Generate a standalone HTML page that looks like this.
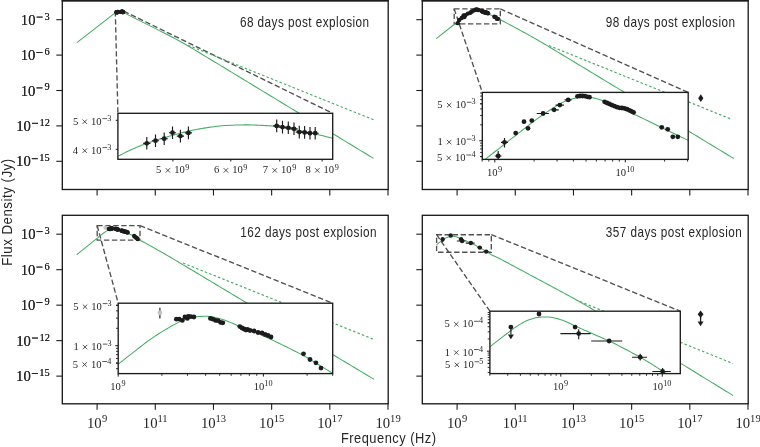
<!DOCTYPE html>
<html><head><meta charset="utf-8"><style>html,body{margin:0;padding:0;background:#fff;}svg{display:block;}</style></head>
<body>
<svg style="will-change:transform" width="760" height="447" viewBox="0 0 760 447" font-family="'Liberation Serif', serif" fill="#262626">
<rect width="760" height="447" fill="#fff"/>
<defs>
<clipPath id="cTL"><rect x="62.3" y="0.6" width="325.9" height="188.9"/></clipPath>
<clipPath id="iTL"><rect x="117.9" y="113.3" width="214.8" height="46"/></clipPath>
<clipPath id="cTR"><rect x="422.3" y="0.6" width="325.9" height="188.9"/></clipPath>
<clipPath id="iTR"><rect x="482.3" y="92.4" width="205.9" height="67"/></clipPath>
<clipPath id="cBL"><rect x="62.3" y="215.3" width="325.9" height="188.5"/></clipPath>
<clipPath id="iBL"><rect x="118.2" y="303.2" width="214.5" height="70.4"/></clipPath>
<clipPath id="cBR"><rect x="422.3" y="215.3" width="325.9" height="188.5"/></clipPath>
<clipPath id="iBR"><rect x="489.9" y="311.2" width="190.4" height="62.4"/></clipPath>
</defs>
<line x1="56.3" y1="19.7" x2="62.3" y2="19.7" stroke="#1c1c1c" stroke-width="1.1"/>
<text x="20.86" y="24.8" font-size="14.7">10</text><rect x="36.6" y="16.65" width="6" height="0.9"/><text x="44.51" y="19.6" font-size="10.4">3</text>
<line x1="56.3" y1="55.1" x2="62.3" y2="55.1" stroke="#1c1c1c" stroke-width="1.1"/>
<text x="20.72" y="60.2" font-size="14.7">10</text><rect x="36.46" y="52.05" width="6" height="0.9"/><text x="44.41" y="55" font-size="10.4">6</text>
<line x1="56.3" y1="90.5" x2="62.3" y2="90.5" stroke="#1c1c1c" stroke-width="1.1"/>
<text x="20.72" y="95.6" font-size="14.7">10</text><rect x="36.46" y="87.45" width="6" height="0.9"/><text x="44.53" y="90.4" font-size="10.4">9</text>
<line x1="56.3" y1="125.9" x2="62.3" y2="125.9" stroke="#1c1c1c" stroke-width="1.1"/>
<text x="16.25" y="131" font-size="14.7">10</text><rect x="31.99" y="122.85" width="6" height="0.9"/><text x="39.47" y="125.8" font-size="10.4">12</text>
<line x1="56.3" y1="161.3" x2="62.3" y2="161.3" stroke="#1c1c1c" stroke-width="1.1"/>
<text x="16.08" y="166.4" font-size="14.7">10</text><rect x="31.82" y="158.25" width="6" height="0.9"/><text x="39.31" y="161.2" font-size="10.4">15</text>
<line x1="97.1" y1="189.5" x2="97.1" y2="195.5" stroke="#1c1c1c" stroke-width="1.1"/>
<line x1="155.28" y1="189.5" x2="155.28" y2="195.5" stroke="#1c1c1c" stroke-width="1.1"/>
<line x1="213.46" y1="189.5" x2="213.46" y2="195.5" stroke="#1c1c1c" stroke-width="1.1"/>
<line x1="271.64" y1="189.5" x2="271.64" y2="195.5" stroke="#1c1c1c" stroke-width="1.1"/>
<line x1="329.82" y1="189.5" x2="329.82" y2="195.5" stroke="#1c1c1c" stroke-width="1.1"/>
<line x1="388" y1="189.5" x2="388" y2="195.5" stroke="#1c1c1c" stroke-width="1.1"/>
<g clip-path="url(#cTL)">
<rect x="115.3" y="11.2" width="8.5" height="1.8" fill="none" stroke="#505050" stroke-width="1.35" stroke-dasharray="5.4,2.6"/>
<line x1="115.3" y1="11.2" x2="117.9" y2="113.3" stroke="#505050" stroke-width="1.35" stroke-dasharray="5.4,2.6"/>
<line x1="123.8" y1="11.2" x2="332.7" y2="113.3" stroke="#505050" stroke-width="1.35" stroke-dasharray="5.4,2.6"/>
<polyline points="76.9,42.6 114.8,13.2 115.3,12.88 115.35,12.86 115.41,12.83 115.46,12.8 115.52,12.77 115.59,12.74 115.65,12.7 115.71,12.67 115.78,12.64 115.84,12.61 115.91,12.59 115.98,12.56 116.05,12.53 116.12,12.5 116.19,12.47 116.26,12.44 116.33,12.42 116.4,12.39 116.47,12.37 116.54,12.34 116.61,12.32 116.67,12.3 116.74,12.27 116.82,12.25 116.89,12.23 116.96,12.21 117.03,12.19 117.11,12.16 117.18,12.14 117.26,12.12 117.33,12.1 117.4,12.08 117.48,12.06 117.55,12.04 117.62,12.02 117.69,12 117.76,11.98 117.82,11.96 117.89,11.95 117.96,11.93 118.03,11.91 118.1,11.9 118.17,11.88 118.24,11.87 118.31,11.85 118.38,11.84 118.46,11.82 118.54,11.81 118.62,11.79 118.71,11.78 118.8,11.77 118.9,11.75 119.01,11.74 119.11,11.72 119.21,11.71 119.32,11.7 119.42,11.69 119.52,11.68 119.63,11.67 119.73,11.67 119.83,11.66 119.94,11.66 120.04,11.66 120.13,11.66 120.23,11.65 120.31,11.65 120.39,11.65 120.47,11.65 120.55,11.66 120.62,11.66 120.69,11.66 120.77,11.66 120.84,11.67 120.92,11.67 121.01,11.67 121.09,11.68 121.17,11.68 121.26,11.69 121.34,11.69 121.41,11.7 121.49,11.7 121.55,11.71 121.61,11.72 121.67,11.73 121.73,11.74 121.79,11.75 121.84,11.76 121.9,11.77 121.95,11.78 122.01,11.79 122.06,11.8 122.11,11.81 122.16,11.82 122.22,11.83 122.27,11.84 122.34,11.85 122.4,11.87 122.48,11.88 122.56,11.9 122.64,11.91 122.73,11.93 122.82,11.95 122.91,11.97 123,11.99 123.09,12.01 123.18,12.03 123.27,12.05 123.36,12.07 123.46,12.09 123.55,12.11 123.64,12.14 123.72,12.16 123.8,12.17 127.5,14.6 129.5,15.6 131.5,16.6 133.5,17.61 135.5,18.61 137.5,19.61 139.5,20.61 141.5,21.61 143.5,22.62 145.5,23.62 147.5,24.62 149.5,25.63 151.5,26.63 153.5,27.63 155.5,28.64 157.5,29.64 159.5,30.65 161.5,31.66 163.5,32.68 165.5,33.69 167.5,34.72 169.5,35.74 171.5,36.78 173.5,37.83 175.5,38.9 177.5,39.97 179.5,41.07 181.5,42.18 183.5,43.31 185.5,44.46 187.5,45.62 189.5,46.79 191.5,47.98 193.5,49.17 195.5,50.36 197.5,51.57 199.5,52.77 201.5,53.98 203.5,55.19 205.5,56.4 207.5,57.61 209.5,58.82 211.5,60.03 213.5,61.25 215.5,62.46 217.5,63.67 219.5,64.89 221.5,66.1 223.5,67.31 225.5,68.53 227.5,69.74 229.5,70.96 231.5,72.17 233.5,73.38 235.5,74.6 237.5,75.81 239.5,77.03 241.5,78.24 243.5,79.45 245.5,80.67 247.5,81.88 249.5,83.1 251.5,84.31 253.5,85.52 255.5,86.74 257.5,87.95 259.5,89.17 261.5,90.38 263.5,91.59 265.5,92.81 267.5,94.02 269.5,95.24 271.5,96.45 273.5,97.66 275.5,98.88 277.5,100.09 279.5,101.31 281.5,102.52 283.5,103.73 285.5,104.95 287.5,106.16 289.5,107.38 291.5,108.59 293.5,109.8 295.5,111.02 297.5,112.23 299.5,113.45 301.5,114.66 303.5,115.87 305.5,117.09 307.5,118.3 309.5,119.52 311.5,120.73 313.5,121.94 315.5,123.16 317.5,124.37 319.5,125.59 321.5,126.8 323.5,128.01 325.5,129.23 327.5,130.44 329.5,131.66 331.5,132.87 333.5,134.08 335.5,135.3 337.5,136.51 339.5,137.73 341.5,138.94 343.5,140.15 345.5,141.37 347.5,142.58 349.5,143.8 351.5,145.01 353.5,146.22 355.5,147.44 357.5,148.65 359.5,149.87 361.5,151.08 363.5,152.29 365.5,153.51 367.5,154.72 369.5,155.94 371.5,157.15 373.5,158.36 373.6,158.43" fill="none" stroke="#44ad62" stroke-width="1.05" stroke-linejoin="round"/>
<polyline points="188,45.2 373.6,119.8" fill="none" stroke="#44ad62" stroke-width="1.1550000000000002" stroke-dasharray="2.5,2.2"/>
<line x1="116.44" y1="12.13" x2="116.44" y2="12.62" stroke="#1c1c1c" stroke-width="1.15"/><line x1="116.3" y1="12.37" x2="116.59" y2="12.37" stroke="#1c1c1c" stroke-width="1.15"/><circle cx="116.44" cy="12.37" r="2.2" fill="#1c1c1c"/>
<line x1="116.79" y1="12.03" x2="116.79" y2="12.52" stroke="#1c1c1c" stroke-width="1.15"/><line x1="116.65" y1="12.27" x2="116.93" y2="12.27" stroke="#1c1c1c" stroke-width="1.15"/><circle cx="116.79" cy="12.27" r="2.2" fill="#1c1c1c"/>
<line x1="117.13" y1="11.95" x2="117.13" y2="12.44" stroke="#1c1c1c" stroke-width="1.15"/><line x1="116.99" y1="12.19" x2="117.27" y2="12.19" stroke="#1c1c1c" stroke-width="1.15"/><circle cx="117.13" cy="12.19" r="2.2" fill="#1c1c1c"/>
<line x1="117.46" y1="11.71" x2="117.46" y2="12.21" stroke="#1c1c1c" stroke-width="1.15"/><line x1="117.32" y1="11.96" x2="117.6" y2="11.96" stroke="#1c1c1c" stroke-width="1.15"/><circle cx="117.46" cy="11.96" r="2.2" fill="#1c1c1c"/>
<line x1="117.77" y1="11.85" x2="117.77" y2="12.34" stroke="#1c1c1c" stroke-width="1.15"/><line x1="117.63" y1="12.09" x2="117.92" y2="12.09" stroke="#1c1c1c" stroke-width="1.15"/><circle cx="117.77" cy="12.09" r="2.2" fill="#1c1c1c"/>
<line x1="118.09" y1="11.72" x2="118.09" y2="12.21" stroke="#1c1c1c" stroke-width="1.15"/><line x1="117.95" y1="11.97" x2="118.23" y2="11.97" stroke="#1c1c1c" stroke-width="1.15"/><circle cx="118.09" cy="11.97" r="2.2" fill="#1c1c1c"/>
<line x1="121.58" y1="11.45" x2="121.58" y2="11.94" stroke="#1c1c1c" stroke-width="1.15"/><line x1="121.44" y1="11.69" x2="121.73" y2="11.69" stroke="#1c1c1c" stroke-width="1.15"/><circle cx="121.58" cy="11.69" r="2.2" fill="#1c1c1c"/>
<line x1="121.81" y1="11.49" x2="121.81" y2="11.99" stroke="#1c1c1c" stroke-width="1.15"/><line x1="121.67" y1="11.74" x2="121.96" y2="11.74" stroke="#1c1c1c" stroke-width="1.15"/><circle cx="121.81" cy="11.74" r="2.2" fill="#1c1c1c"/>
<line x1="122.04" y1="11.52" x2="122.04" y2="12.01" stroke="#1c1c1c" stroke-width="1.15"/><line x1="121.9" y1="11.77" x2="122.19" y2="11.77" stroke="#1c1c1c" stroke-width="1.15"/><circle cx="122.04" cy="11.77" r="2.2" fill="#1c1c1c"/>
<line x1="122.27" y1="11.56" x2="122.27" y2="12.05" stroke="#1c1c1c" stroke-width="1.15"/><line x1="122.13" y1="11.81" x2="122.41" y2="11.81" stroke="#1c1c1c" stroke-width="1.15"/><circle cx="122.27" cy="11.81" r="2.2" fill="#1c1c1c"/>
<line x1="122.48" y1="11.69" x2="122.48" y2="12.18" stroke="#1c1c1c" stroke-width="1.15"/><line x1="122.34" y1="11.94" x2="122.62" y2="11.94" stroke="#1c1c1c" stroke-width="1.15"/><circle cx="122.48" cy="11.94" r="2.2" fill="#1c1c1c"/>
<line x1="122.69" y1="11.7" x2="122.69" y2="12.19" stroke="#1c1c1c" stroke-width="1.15"/><line x1="122.55" y1="11.95" x2="122.83" y2="11.95" stroke="#1c1c1c" stroke-width="1.15"/><circle cx="122.69" cy="11.95" r="2.2" fill="#1c1c1c"/>
<line x1="122.9" y1="11.73" x2="122.9" y2="12.23" stroke="#1c1c1c" stroke-width="1.15"/><line x1="122.76" y1="11.98" x2="123.04" y2="11.98" stroke="#1c1c1c" stroke-width="1.15"/><circle cx="122.9" cy="11.98" r="2.2" fill="#1c1c1c"/>
<line x1="123.11" y1="11.73" x2="123.11" y2="12.23" stroke="#1c1c1c" stroke-width="1.15"/><line x1="122.97" y1="11.98" x2="123.25" y2="11.98" stroke="#1c1c1c" stroke-width="1.15"/><circle cx="123.11" cy="11.98" r="2.2" fill="#1c1c1c"/>

</g>
<text x="239.9" y="27.1" font-family="'Liberation Sans', sans-serif" font-size="14.1" textLength="129.7" lengthAdjust="spacingAndGlyphs" letter-spacing="0.55" fill="#262626">68 days post explosion</text>
<rect x="62.3" y="0.6" width="325.9" height="188.9" fill="none" stroke="#1c1c1c" stroke-width="1.35"/>
<rect x="61.62" y="0" width="327.26" height="1.55" fill="#1c1c1c"/>
<line x1="416.3" y1="19.7" x2="422.3" y2="19.7" stroke="#1c1c1c" stroke-width="1.1"/>
<text x="20.86" y="24.8" font-size="14.7">10</text><rect x="36.6" y="16.65" width="6" height="0.9"/><text x="44.51" y="19.6" font-size="10.4">3</text>
<line x1="416.3" y1="55.1" x2="422.3" y2="55.1" stroke="#1c1c1c" stroke-width="1.1"/>
<text x="20.72" y="60.2" font-size="14.7">10</text><rect x="36.46" y="52.05" width="6" height="0.9"/><text x="44.41" y="55" font-size="10.4">6</text>
<line x1="416.3" y1="90.5" x2="422.3" y2="90.5" stroke="#1c1c1c" stroke-width="1.1"/>
<text x="20.72" y="95.6" font-size="14.7">10</text><rect x="36.46" y="87.45" width="6" height="0.9"/><text x="44.53" y="90.4" font-size="10.4">9</text>
<line x1="416.3" y1="125.9" x2="422.3" y2="125.9" stroke="#1c1c1c" stroke-width="1.1"/>
<text x="16.25" y="131" font-size="14.7">10</text><rect x="31.99" y="122.85" width="6" height="0.9"/><text x="39.47" y="125.8" font-size="10.4">12</text>
<line x1="416.3" y1="161.3" x2="422.3" y2="161.3" stroke="#1c1c1c" stroke-width="1.1"/>
<text x="16.08" y="166.4" font-size="14.7">10</text><rect x="31.82" y="158.25" width="6" height="0.9"/><text x="39.31" y="161.2" font-size="10.4">15</text>
<line x1="457.1" y1="189.5" x2="457.1" y2="195.5" stroke="#1c1c1c" stroke-width="1.1"/>
<line x1="515.28" y1="189.5" x2="515.28" y2="195.5" stroke="#1c1c1c" stroke-width="1.1"/>
<line x1="573.46" y1="189.5" x2="573.46" y2="195.5" stroke="#1c1c1c" stroke-width="1.1"/>
<line x1="631.64" y1="189.5" x2="631.64" y2="195.5" stroke="#1c1c1c" stroke-width="1.1"/>
<line x1="689.82" y1="189.5" x2="689.82" y2="195.5" stroke="#1c1c1c" stroke-width="1.1"/>
<line x1="748" y1="189.5" x2="748" y2="195.5" stroke="#1c1c1c" stroke-width="1.1"/>
<g clip-path="url(#cTR)">
<rect x="454.2" y="8.9" width="46.1" height="15" fill="none" stroke="#505050" stroke-width="1.35" stroke-dasharray="5.4,2.6"/>
<line x1="454.2" y1="8.9" x2="482.3" y2="92.4" stroke="#505050" stroke-width="1.35" stroke-dasharray="5.4,2.6"/>
<line x1="500.3" y1="8.9" x2="688.2" y2="92.4" stroke="#505050" stroke-width="1.35" stroke-dasharray="5.4,2.6"/>
<polyline points="436.3,38.7 454.44,24.24 454.71,24.02 454.98,23.79 455.28,23.55 455.6,23.3 455.94,23.03 456.29,22.76 456.65,22.47 457.01,22.19 457.37,21.91 457.72,21.64 458.05,21.37 458.39,21.11 458.73,20.84 459.06,20.58 459.4,20.31 459.74,20.04 460.09,19.77 460.45,19.49 460.81,19.21 461.18,18.91 461.55,18.62 461.93,18.32 462.31,18.03 462.69,17.73 463.07,17.43 463.45,17.14 463.82,16.84 464.21,16.55 464.59,16.25 464.97,15.95 465.35,15.65 465.73,15.37 466.09,15.09 466.45,14.83 466.78,14.59 467.11,14.36 467.42,14.14 467.72,13.93 468.03,13.73 468.34,13.52 468.66,13.31 469,13.09 469.36,12.85 469.75,12.6 470.14,12.35 470.54,12.09 470.94,11.85 471.32,11.62 471.68,11.41 472,11.23 472.29,11.08 472.54,10.96 472.78,10.87 472.99,10.78 473.2,10.71 473.41,10.65 473.62,10.58 473.84,10.51 474.07,10.44 474.3,10.37 474.54,10.3 474.77,10.24 475,10.18 475.22,10.13 475.43,10.08 475.63,10.04 475.81,10.01 475.97,9.98 476.12,9.96 476.26,9.94 476.4,9.93 476.55,9.92 476.7,9.91 476.86,9.91 477.03,9.91 477.2,9.91 477.38,9.91 477.56,9.92 477.75,9.94 477.94,9.95 478.12,9.97 478.31,10 478.5,10.03 478.7,10.06 478.89,10.1 479.09,10.14 479.29,10.18 479.49,10.23 479.68,10.28 479.88,10.33 480.06,10.39 480.23,10.43 480.38,10.48 480.54,10.54 480.71,10.6 480.91,10.68 481.16,10.77 481.45,10.89 481.8,11.04 482.21,11.21 482.65,11.4 483.13,11.61 483.61,11.82 484.1,12.03 484.58,12.24 485.03,12.44 485.44,12.62 485.83,12.78 486.2,12.94 486.57,13.09 486.96,13.26 487.39,13.45 487.87,13.66 488.41,13.91 489.03,14.21 489.72,14.53 490.46,14.89 491.23,15.26 492.02,15.64 492.82,16.03 493.61,16.41 494.37,16.78 495.13,17.15 495.93,17.53 496.74,17.93 497.54,18.31 498.32,18.69 499.05,19.04 499.72,19.37 500.3,19.65 500.3,19.66 502.3,20.72 504.3,21.78 506.3,22.85 508.3,23.91 510.3,24.98 512.3,26.05 514.3,27.12 516.3,28.19 518.3,29.27 520.3,30.35 522.3,31.44 524.3,32.54 526.3,33.64 528.3,34.76 530.3,35.88 532.3,37.01 534.3,38.15 536.3,39.3 538.3,40.46 540.3,41.62 542.3,42.8 544.3,43.98 546.3,45.16 548.3,46.35 550.3,47.55 552.3,48.74 554.3,49.94 556.3,51.15 558.3,52.35 560.3,53.55 562.3,54.76 564.3,55.97 566.3,57.17 568.3,58.38 570.3,59.59 572.3,60.8 574.3,62.01 576.3,63.22 578.3,64.43 580.3,65.64 582.3,66.85 584.3,68.06 586.3,69.27 588.3,70.48 590.3,71.69 592.3,72.9 594.3,74.11 596.3,75.32 598.3,76.53 600.3,77.74 602.3,78.95 604.3,80.16 606.3,81.37 608.3,82.58 610.3,83.79 612.3,85 614.3,86.21 616.3,87.42 618.3,88.63 620.3,89.84 622.3,91.05 624.3,92.26 626.3,93.47 628.3,94.68 630.3,95.89 632.3,97.1 634.3,98.31 636.3,99.52 638.3,100.73 640.3,101.94 642.3,103.15 644.3,104.36 646.3,105.57 648.3,106.78 650.3,107.99 652.3,109.2 654.3,110.41 656.3,111.62 658.3,112.83 660.3,114.04 662.3,115.25 664.3,116.46 666.3,117.67 668.3,118.88 670.3,120.09 672.3,121.3 674.3,122.51 676.3,123.72 678.3,124.93 680.3,126.14 682.3,127.35 684.3,128.56 686.3,129.77 688.3,130.98 690.3,132.19 692.3,133.4 694.3,134.61 696.3,135.82 698.3,137.03 700.3,138.24 702.3,139.45 704.3,140.66 706.3,141.87 708.3,143.08 710.3,144.29 712.3,145.5 714.3,146.71 716.3,147.92 718.3,149.13 720.3,150.34 722.3,151.55 724.3,152.76 726.3,153.97 728.3,155.18 730.3,156.39 732.3,157.6 733.8,158.5" fill="none" stroke="#44ad62" stroke-width="1.05" stroke-linejoin="round"/>
<polyline points="549,45.6 731.4,119.2" fill="none" stroke="#44ad62" stroke-width="1.1550000000000002" stroke-dasharray="2.5,2.2"/>
<line x1="457.76" y1="22.02" x2="457.76" y2="24.03" stroke="#1c1c1c" stroke-width="1.15"/><line x1="457" y1="23.14" x2="458.5" y2="23.14" stroke="#1c1c1c" stroke-width="1.15"/><circle cx="457.76" cy="23.14" r="2.2" fill="#1c1c1c"/>
<line x1="459.17" y1="19.11" x2="459.17" y2="21.26" stroke="#1c1c1c" stroke-width="1.15"/><line x1="458.39" y1="20.07" x2="459.95" y2="20.07" stroke="#1c1c1c" stroke-width="1.15"/><circle cx="459.17" cy="20.07" r="2.2" fill="#1c1c1c"/>
<circle cx="461.68" cy="18.01" r="2.2" fill="#1c1c1c"/>
<circle cx="463.54" cy="15.46" r="2.2" fill="#1c1c1c"/>
<circle cx="464.43" cy="16.94" r="2.2" fill="#1c1c1c"/>
<circle cx="465.28" cy="15.21" r="2.2" fill="#1c1c1c"/>
<line x1="466.38" y1="13.62" x2="469.11" y2="13.62" stroke="#1c1c1c" stroke-width="1.15"/><circle cx="467.81" cy="13.62" r="2.2" fill="#1c1c1c"/>
<line x1="469.65" y1="12.8" x2="471.31" y2="12.8" stroke="#1c1c1c" stroke-width="1.15"/><circle cx="470.28" cy="12.8" r="2.2" fill="#1c1c1c"/>
<line x1="470.61" y1="11.74" x2="472.47" y2="11.74" stroke="#1c1c1c" stroke-width="1.15"/><circle cx="471.55" cy="11.74" r="2.2" fill="#1c1c1c"/>
<line x1="472.63" y1="10.58" x2="474.19" y2="10.58" stroke="#1c1c1c" stroke-width="1.15"/><circle cx="473.43" cy="10.58" r="2.2" fill="#1c1c1c"/>
<circle cx="475.51" cy="9.77" r="2.2" fill="#1c1c1c"/>
<circle cx="476.07" cy="9.71" r="2.2" fill="#1c1c1c"/>
<circle cx="476.63" cy="9.71" r="2.2" fill="#1c1c1c"/>
<circle cx="477.19" cy="9.75" r="2.2" fill="#1c1c1c"/>
<circle cx="477.75" cy="9.89" r="2.2" fill="#1c1c1c"/>
<circle cx="478.2" cy="9.97" r="2.2" fill="#1c1c1c"/>
<circle cx="481.58" cy="11" r="2.2" fill="#1c1c1c"/>
<circle cx="482.12" cy="11.27" r="2.2" fill="#1c1c1c"/>
<circle cx="482.68" cy="11.5" r="2.2" fill="#1c1c1c"/>
<circle cx="483.24" cy="11.77" r="2.2" fill="#1c1c1c"/>
<circle cx="483.8" cy="11.99" r="2.2" fill="#1c1c1c"/>
<circle cx="484.36" cy="12.21" r="2.2" fill="#1c1c1c"/>
<circle cx="484.92" cy="12.35" r="2.2" fill="#1c1c1c"/>
<circle cx="485.48" cy="12.39" r="2.2" fill="#1c1c1c"/>
<circle cx="486.04" cy="12.46" r="2.2" fill="#1c1c1c"/>
<circle cx="486.6" cy="12.66" r="2.2" fill="#1c1c1c"/>
<circle cx="487.16" cy="12.91" r="2.2" fill="#1c1c1c"/>
<circle cx="487.61" cy="13.13" r="2.2" fill="#1c1c1c"/>
<circle cx="488.08" cy="13.36" r="2.2" fill="#1c1c1c"/>
<circle cx="494.37" cy="16.71" r="2.2" fill="#1c1c1c"/>
<circle cx="495.71" cy="17.16" r="2.2" fill="#1c1c1c"/>
<circle cx="496.85" cy="18.84" r="2.2" fill="#1c1c1c"/>
<circle cx="497.97" cy="18.84" r="2.2" fill="#1c1c1c"/>
<path d="M700.8,94.2L703.4,98.2L700.8,102.1L698.2,98.2Z" fill="#1c1c1c"/>
</g>
<text x="605.8" y="26.8" font-family="'Liberation Sans', sans-serif" font-size="14.1" textLength="129.7" lengthAdjust="spacingAndGlyphs" letter-spacing="0.55" fill="#262626">98 days post explosion</text>
<rect x="422.3" y="0.6" width="325.9" height="188.9" fill="none" stroke="#1c1c1c" stroke-width="1.35"/>
<rect x="421.62" y="0" width="327.26" height="1.55" fill="#1c1c1c"/>
<line x1="56.3" y1="234.2" x2="62.3" y2="234.2" stroke="#1c1c1c" stroke-width="1.1"/>
<text x="20.86" y="239.3" font-size="14.7">10</text><rect x="36.6" y="231.15" width="6" height="0.9"/><text x="44.51" y="234.1" font-size="10.4">3</text>
<line x1="56.3" y1="269.68" x2="62.3" y2="269.68" stroke="#1c1c1c" stroke-width="1.1"/>
<text x="20.72" y="274.78" font-size="14.7">10</text><rect x="36.46" y="266.63" width="6" height="0.9"/><text x="44.41" y="269.58" font-size="10.4">6</text>
<line x1="56.3" y1="305.16" x2="62.3" y2="305.16" stroke="#1c1c1c" stroke-width="1.1"/>
<text x="20.72" y="310.26" font-size="14.7">10</text><rect x="36.46" y="302.11" width="6" height="0.9"/><text x="44.53" y="305.06" font-size="10.4">9</text>
<line x1="56.3" y1="340.64" x2="62.3" y2="340.64" stroke="#1c1c1c" stroke-width="1.1"/>
<text x="16.25" y="345.74" font-size="14.7">10</text><rect x="31.99" y="337.59" width="6" height="0.9"/><text x="39.47" y="340.54" font-size="10.4">12</text>
<line x1="56.3" y1="376.12" x2="62.3" y2="376.12" stroke="#1c1c1c" stroke-width="1.1"/>
<text x="16.08" y="381.22" font-size="14.7">10</text><rect x="31.82" y="373.07" width="6" height="0.9"/><text x="39.31" y="376.02" font-size="10.4">15</text>
<line x1="97.1" y1="403.8" x2="97.1" y2="409.8" stroke="#1c1c1c" stroke-width="1.1"/>
<text x="86.92" y="427.7" font-size="14.7">10</text><text x="102.12" y="422.2" font-size="10.6">9</text>
<line x1="155.28" y1="403.8" x2="155.28" y2="409.8" stroke="#1c1c1c" stroke-width="1.1"/>
<text x="142.85" y="427.7" font-size="14.7">10</text><text x="157.46" y="422.2" font-size="10.6">11</text>
<line x1="213.46" y1="403.8" x2="213.46" y2="409.8" stroke="#1c1c1c" stroke-width="1.1"/>
<text x="200.92" y="427.7" font-size="14.7">10</text><text x="215.53" y="422.2" font-size="10.6">13</text>
<line x1="271.64" y1="403.8" x2="271.64" y2="409.8" stroke="#1c1c1c" stroke-width="1.1"/>
<text x="259.1" y="427.7" font-size="14.7">10</text><text x="273.71" y="422.2" font-size="10.6">15</text>
<line x1="329.82" y1="403.8" x2="329.82" y2="409.8" stroke="#1c1c1c" stroke-width="1.1"/>
<text x="317.22" y="427.7" font-size="14.7">10</text><text x="331.83" y="422.2" font-size="10.6">17</text>
<line x1="388" y1="403.8" x2="388" y2="409.8" stroke="#1c1c1c" stroke-width="1.1"/>
<text x="375.47" y="427.7" font-size="14.7">10</text><text x="390.08" y="422.2" font-size="10.6">19</text>
<g clip-path="url(#cBL)">
<rect x="97.2" y="225.6" width="42.8" height="14.5" fill="none" stroke="#505050" stroke-width="1.35" stroke-dasharray="5.4,2.6"/>
<line x1="97.2" y1="225.6" x2="118.2" y2="303.2" stroke="#505050" stroke-width="1.35" stroke-dasharray="5.4,2.6"/>
<line x1="140" y1="225.6" x2="332.7" y2="303.2" stroke="#505050" stroke-width="1.35" stroke-dasharray="5.4,2.6"/>
<polyline points="76.8,254.6 97.28,238.08 97.58,237.85 97.9,237.59 98.25,237.31 98.61,237.02 98.99,236.71 99.37,236.4 99.76,236.09 100.15,235.77 100.55,235.45 100.96,235.12 101.39,234.78 101.82,234.43 102.25,234.09 102.68,233.74 103.12,233.41 103.55,233.1 103.97,232.79 104.41,232.49 104.85,232.19 105.28,231.9 105.71,231.62 106.14,231.35 106.55,231.09 106.94,230.85 107.31,230.62 107.68,230.41 108.03,230.2 108.38,230.01 108.71,229.83 109.04,229.65 109.35,229.5 109.65,229.35 109.94,229.21 110.2,229.09 110.45,228.99 110.69,228.89 110.93,228.81 111.17,228.73 111.42,228.65 111.69,228.59 111.97,228.52 112.26,228.47 112.57,228.42 112.87,228.39 113.18,228.35 113.48,228.33 113.78,228.31 114.06,228.3 114.33,228.29 114.58,228.29 114.82,228.29 115.06,228.3 115.31,228.32 115.55,228.35 115.82,228.39 116.1,228.44 116.39,228.5 116.7,228.58 117.03,228.66 117.36,228.76 117.69,228.86 118.03,228.97 118.37,229.08 118.71,229.2 119.04,229.33 119.35,229.46 119.67,229.6 119.98,229.74 120.32,229.89 120.67,230.06 121.07,230.23 121.5,230.42 121.99,230.62 122.53,230.84 123.1,231.07 123.7,231.31 124.31,231.56 124.92,231.81 125.52,232.06 126.09,232.31 126.65,232.57 127.2,232.83 127.76,233.09 128.3,233.36 128.85,233.63 129.39,233.9 129.94,234.18 130.48,234.46 131.02,234.73 131.55,235 132.08,235.27 132.61,235.55 133.14,235.83 133.69,236.13 134.25,236.45 134.83,236.78 135.46,237.16 136.13,237.58 136.83,238.02 137.53,238.47 138.22,238.91 138.88,239.34 139.48,239.72 140,240.06 140,240.1 142,241.19 144,242.29 146,243.39 148,244.49 150,245.6 152,246.72 154,247.84 156,248.97 158,250.11 160,251.25 162,252.4 164,253.56 166,254.72 168,255.88 170,257.05 172,258.23 174,259.41 176,260.59 178,261.77 180,262.96 182,264.15 184,265.34 186,266.54 188,267.73 190,268.93 192,270.12 194,271.32 196,272.52 198,273.71 200,274.91 202,276.11 204,277.31 206,278.51 208,279.71 210,280.91 212,282.11 214,283.3 216,284.5 218,285.7 220,286.9 222,288.1 224,289.3 226,290.5 228,291.7 230,292.9 232,294.1 234,295.3 236,296.5 238,297.7 240,298.9 242,300.1 244,301.3 246,302.5 248,303.7 250,304.9 252,306.1 254,307.3 256,308.5 258,309.7 260,310.9 262,312.1 264,313.3 266,314.5 268,315.7 270,316.9 272,318.1 274,319.3 276,320.5 278,321.7 280,322.9 282,324.1 284,325.3 286,326.5 288,327.7 290,328.9 292,330.1 294,331.3 296,332.5 298,333.7 300,334.9 302,336.1 304,337.3 306,338.5 308,339.7 310,340.9 312,342.1 314,343.3 316,344.5 318,345.7 320,346.9 322,348.1 324,349.3 326,350.5 328,351.7 330,352.9 332,354.1 334,355.3 336,356.5 338,357.7 340,358.9 342,360.1 344,361.3 346,362.5 348,363.7 350,364.9 352,366.1 354,367.3 356,368.5 358,369.7 360,370.9 362,372.1 364,373.3 366,374.5 368,375.7 370,376.9 372,378.1 373.8,379.18" fill="none" stroke="#44ad62" stroke-width="1.05" stroke-linejoin="round"/>
<polyline points="183,263 373.8,339.4" fill="none" stroke="#44ad62" stroke-width="1.1550000000000002" stroke-dasharray="2.5,2.2"/>
<line x1="105.52" y1="226.53" x2="105.52" y2="228.73" stroke="#1c1c1c" stroke-width="1.15"/><circle cx="105.52" cy="227.58" r="2.2" fill="#c4c4c4"/>
<circle cx="108.81" cy="228.9" r="2.2" fill="#1c1c1c"/>
<circle cx="109.37" cy="228.9" r="2.2" fill="#1c1c1c"/>
<circle cx="109.99" cy="229.14" r="2.2" fill="#1c1c1c"/>
<circle cx="110.51" cy="228.44" r="2.2" fill="#1c1c1c"/>
<circle cx="111.01" cy="228.73" r="2.2" fill="#1c1c1c"/>
<circle cx="111.19" cy="228.3" r="2.2" fill="#1c1c1c"/>
<circle cx="111.69" cy="228.38" r="2.2" fill="#1c1c1c"/>
<circle cx="112.3" cy="228.44" r="2.2" fill="#1c1c1c"/>
<circle cx="115.6" cy="228.73" r="2.2" fill="#1c1c1c"/>
<circle cx="116.1" cy="228.9" r="2.2" fill="#1c1c1c"/>
<circle cx="116.61" cy="229.14" r="2.2" fill="#1c1c1c"/>
<circle cx="117.11" cy="229.2" r="2.2" fill="#1c1c1c"/>
<circle cx="117.63" cy="229.55" r="2.2" fill="#1c1c1c"/>
<circle cx="118.07" cy="229.64" r="2.2" fill="#1c1c1c"/>
<circle cx="121.46" cy="230.42" r="2.2" fill="#1c1c1c"/>
<circle cx="121.9" cy="230.71" r="2.2" fill="#1c1c1c"/>
<circle cx="122.3" cy="230.91" r="2.2" fill="#1c1c1c"/>
<circle cx="122.7" cy="231.12" r="2.2" fill="#1c1c1c"/>
<circle cx="123" cy="231.02" r="2.2" fill="#1c1c1c"/>
<circle cx="123.5" cy="231.22" r="2.2" fill="#1c1c1c"/>
<circle cx="124.3" cy="231.33" r="2.2" fill="#1c1c1c"/>
<circle cx="125.09" cy="231.63" r="2.2" fill="#1c1c1c"/>
<circle cx="125.89" cy="231.74" r="2.2" fill="#1c1c1c"/>
<circle cx="126.49" cy="232.05" r="2.2" fill="#1c1c1c"/>
<circle cx="127.09" cy="232.25" r="2.2" fill="#1c1c1c"/>
<circle cx="127.69" cy="232.56" r="2.2" fill="#1c1c1c"/>
<circle cx="134.17" cy="236.02" r="2.2" fill="#1c1c1c"/>
<circle cx="135.47" cy="237.2" r="2.2" fill="#1c1c1c"/>
<circle cx="136.65" cy="237.88" r="2.2" fill="#1c1c1c"/>
<circle cx="137.67" cy="238.97" r="2.2" fill="#1c1c1c"/>

</g>
<text x="240.3" y="236.8" font-family="'Liberation Sans', sans-serif" font-size="14.1" textLength="136.7" lengthAdjust="spacingAndGlyphs" letter-spacing="0.55" fill="#262626">162 days post explosion</text>
<rect x="62.3" y="215.3" width="325.9" height="188.5" fill="none" stroke="#1c1c1c" stroke-width="1.35"/>
<line x1="416.3" y1="234.2" x2="422.3" y2="234.2" stroke="#1c1c1c" stroke-width="1.1"/>
<text x="20.86" y="239.3" font-size="14.7">10</text><rect x="36.6" y="231.15" width="6" height="0.9"/><text x="44.51" y="234.1" font-size="10.4">3</text>
<line x1="416.3" y1="269.68" x2="422.3" y2="269.68" stroke="#1c1c1c" stroke-width="1.1"/>
<text x="20.72" y="274.78" font-size="14.7">10</text><rect x="36.46" y="266.63" width="6" height="0.9"/><text x="44.41" y="269.58" font-size="10.4">6</text>
<line x1="416.3" y1="305.16" x2="422.3" y2="305.16" stroke="#1c1c1c" stroke-width="1.1"/>
<text x="20.72" y="310.26" font-size="14.7">10</text><rect x="36.46" y="302.11" width="6" height="0.9"/><text x="44.53" y="305.06" font-size="10.4">9</text>
<line x1="416.3" y1="340.64" x2="422.3" y2="340.64" stroke="#1c1c1c" stroke-width="1.1"/>
<text x="16.25" y="345.74" font-size="14.7">10</text><rect x="31.99" y="337.59" width="6" height="0.9"/><text x="39.47" y="340.54" font-size="10.4">12</text>
<line x1="416.3" y1="376.12" x2="422.3" y2="376.12" stroke="#1c1c1c" stroke-width="1.1"/>
<text x="16.08" y="381.22" font-size="14.7">10</text><rect x="31.82" y="373.07" width="6" height="0.9"/><text x="39.31" y="376.02" font-size="10.4">15</text>
<line x1="457.1" y1="403.8" x2="457.1" y2="409.8" stroke="#1c1c1c" stroke-width="1.1"/>
<text x="446.92" y="427.7" font-size="14.7">10</text><text x="462.12" y="422.2" font-size="10.6">9</text>
<line x1="515.28" y1="403.8" x2="515.28" y2="409.8" stroke="#1c1c1c" stroke-width="1.1"/>
<text x="502.85" y="427.7" font-size="14.7">10</text><text x="517.46" y="422.2" font-size="10.6">11</text>
<line x1="573.46" y1="403.8" x2="573.46" y2="409.8" stroke="#1c1c1c" stroke-width="1.1"/>
<text x="560.92" y="427.7" font-size="14.7">10</text><text x="575.53" y="422.2" font-size="10.6">13</text>
<line x1="631.64" y1="403.8" x2="631.64" y2="409.8" stroke="#1c1c1c" stroke-width="1.1"/>
<text x="619.1" y="427.7" font-size="14.7">10</text><text x="633.71" y="422.2" font-size="10.6">15</text>
<line x1="689.82" y1="403.8" x2="689.82" y2="409.8" stroke="#1c1c1c" stroke-width="1.1"/>
<text x="677.22" y="427.7" font-size="14.7">10</text><text x="691.83" y="422.2" font-size="10.6">17</text>
<line x1="748" y1="403.8" x2="748" y2="409.8" stroke="#1c1c1c" stroke-width="1.1"/>
<text x="735.47" y="427.7" font-size="14.7">10</text><text x="750.08" y="422.2" font-size="10.6">19</text>
<g clip-path="url(#cBR)">
<rect x="436.6" y="234.7" width="54.7" height="17.5" fill="none" stroke="#505050" stroke-width="1.35" stroke-dasharray="5.4,2.6"/>
<line x1="436.6" y1="234.7" x2="489.9" y2="311.2" stroke="#505050" stroke-width="1.35" stroke-dasharray="5.4,2.6"/>
<line x1="491.3" y1="234.7" x2="680.3" y2="311.2" stroke="#505050" stroke-width="1.35" stroke-dasharray="5.4,2.6"/>
<polyline points="436.63,244.66 436.94,244.44 437.22,244.22 437.49,244.02 437.75,243.81 438.01,243.61 438.28,243.4 438.57,243.18 438.87,242.95 439.19,242.7 439.53,242.44 439.88,242.18 440.24,241.91 440.6,241.64 440.97,241.37 441.33,241.1 441.69,240.84 442.04,240.58 442.39,240.32 442.74,240.06 443.09,239.8 443.44,239.54 443.8,239.29 444.15,239.05 444.5,238.82 444.85,238.6 445.2,238.39 445.56,238.19 445.91,237.99 446.26,237.8 446.61,237.63 446.96,237.46 447.32,237.31 447.67,237.17 448.03,237.04 448.39,236.92 448.75,236.82 449.11,236.72 449.46,236.64 449.8,236.56 450.13,236.49 450.45,236.44 450.75,236.39 451.05,236.36 451.34,236.33 451.62,236.31 451.91,236.3 452.2,236.3 452.49,236.3 452.78,236.3 453.07,236.31 453.35,236.33 453.64,236.35 453.93,236.38 454.22,236.42 454.53,236.47 454.84,236.52 455.17,236.59 455.51,236.67 455.87,236.76 456.22,236.85 456.58,236.96 456.94,237.07 457.3,237.18 457.66,237.31 458.01,237.44 458.36,237.58 458.71,237.74 459.06,237.89 459.41,238.06 459.77,238.22 460.12,238.38 460.47,238.54 460.82,238.7 461.17,238.85 461.51,239.01 461.85,239.16 462.2,239.32 462.57,239.49 462.95,239.66 463.35,239.83 463.77,240.02 464.22,240.21 464.68,240.41 465.16,240.61 465.64,240.82 466.13,241.02 466.61,241.23 467.08,241.43 467.55,241.63 468,241.82 468.46,242.01 468.91,242.2 469.37,242.4 469.85,242.61 470.34,242.82 470.84,243.06 471.38,243.31 471.94,243.57 472.51,243.85 473.09,244.14 473.68,244.43 474.27,244.72 474.85,245.01 475.41,245.3 475.98,245.59 476.54,245.89 477.11,246.18 477.67,246.48 478.22,246.78 478.76,247.07 479.28,247.35 479.78,247.63 480.25,247.89 480.7,248.14 481.13,248.39 481.55,248.63 481.96,248.87 482.36,249.11 482.76,249.35 483.17,249.59 483.57,249.83 483.94,250.07 484.3,250.3 484.67,250.53 485.04,250.77 485.44,251.03 485.88,251.31 486.36,251.61 486.91,251.95 487.52,252.34 488.18,252.75 488.85,253.17 489.53,253.58 490.18,253.99 490.77,254.36 491.3,254.7 500,258.8 502,259.87 504,260.94 506,262.01 508,263.08 510,264.15 512,265.22 514,266.29 516,267.36 518,268.43 520,269.5 522,270.57 524,271.64 526,272.71 528,273.78 530,274.85 532,275.92 534,276.99 536,278.06 538,279.13 540,280.2 542,281.27 544,282.35 546,283.42 548,284.49 550,285.56 552,286.63 554,287.71 556,288.78 558,289.86 560,290.94 562,292.02 564,293.1 566,294.19 568,295.28 570,296.37 572,297.47 574,298.58 576,299.7 578,300.82 580,301.95 582,303.1 584,304.25 586,305.41 588,306.58 590,307.77 592,308.95 594,310.15 596,311.35 598,312.56 600,313.77 602,314.99 604,316.21 606,317.43 608,318.65 610,319.88 612,321.1 614,322.33 616,323.55 618,324.78 620,326.01 622,327.24 624,328.47 626,329.7 628,330.93 630,332.16 632,333.39 634,334.62 636,335.85 638,337.08 640,338.31 642,339.54 644,340.77 646,342 648,343.23 650,344.46 652,345.69 654,346.92 656,348.15 658,349.38 660,350.61 662,351.84 664,353.07 666,354.29 668,355.52 670,356.75 672,357.98 674,359.21 676,360.44 678,361.67 680,362.9 682,364.13 684,365.36 686,366.59 688,367.82 690,369.05 692,370.28 694,371.51 696,372.74 698,373.97 700,375.2 702,376.43 704,377.66 706,378.89 708,380.12 710,381.35 712,382.58 714,383.81 716,385.04 718,386.27 720,387.5 722,388.73 724,389.96 726,391.19 728,392.42 730,393.65 732,394.88 733,395.5" fill="none" stroke="#44ad62" stroke-width="1.05" stroke-linejoin="round"/>
<polyline points="580,301.6 732.8,363.5" fill="none" stroke="#44ad62" stroke-width="1.1550000000000002" stroke-dasharray="2.5,2.2"/>
<line x1="442.63" y1="239.16" x2="442.63" y2="241.26" stroke="#1c1c1c" stroke-width="1.15"/><path d="M441.13,241.26L444.13,241.26L442.63,242.55Z" fill="#1c1c1c"/><circle cx="442.63" cy="239.16" r="2.2" fill="#1c1c1c"/>
<circle cx="450.71" cy="235.49" r="2.2" fill="#1c1c1c"/>
<circle cx="461.08" cy="239.16" r="2.2" fill="#1c1c1c"/>
<line x1="462.11" y1="239.75" x2="462.11" y2="242.58" stroke="#1c1c1c" stroke-width="1.15"/><line x1="456.85" y1="240.98" x2="465.56" y2="240.98" stroke="#1c1c1c" stroke-width="1.15"/><circle cx="462.11" cy="240.98" r="2.2" fill="#1c1c1c"/>
<line x1="465.7" y1="243.06" x2="474.61" y2="243.06" stroke="#1c1c1c" stroke-width="1.15"/><circle cx="470.84" cy="243.06" r="2.2" fill="#1c1c1c"/>
<line x1="479.78" y1="246.62" x2="479.78" y2="248.55" stroke="#1c1c1c" stroke-width="1.15"/><line x1="477.42" y1="247.6" x2="481.73" y2="247.6" stroke="#1c1c1c" stroke-width="1.15"/><circle cx="479.78" cy="247.6" r="2.2" fill="#1c1c1c"/>
<line x1="486.21" y1="250.6" x2="486.21" y2="252.62" stroke="#1c1c1c" stroke-width="1.15"/><line x1="483.28" y1="251.61" x2="488.54" y2="251.61" stroke="#1c1c1c" stroke-width="1.15"/><circle cx="486.21" cy="251.61" r="2.2" fill="#1c1c1c"/>
<path d="M700.6,310.5L703.5,314.3L700.6,318.1L697.7,314.3Z" fill="#1c1c1c"/><line x1="700.6" y1="317" x2="700.6" y2="322.5" stroke="#1c1c1c" stroke-width="1.3"/><path d="M697.6,321.4L703.6,321.4L700.6,326.3Z" fill="#1c1c1c"/>
</g>
<text x="605.8" y="236.8" font-family="'Liberation Sans', sans-serif" font-size="14.1" textLength="136.4" lengthAdjust="spacingAndGlyphs" letter-spacing="0.55" fill="#262626">357 days post explosion</text>
<rect x="422.3" y="215.3" width="325.9" height="188.5" fill="none" stroke="#1c1c1c" stroke-width="1.35"/>
<rect x="117.9" y="113.3" width="214.8" height="46" fill="#fff"/>
<g clip-path="url(#iTL)">
<polyline points="110,160.2 110.58,159.91 111.32,159.55 112.2,159.12 113.19,158.63 114.28,158.1 115.44,157.52 116.66,156.92 117.9,156.3 119.2,155.64 120.59,154.92 122.05,154.16 123.58,153.37 125.15,152.56 126.75,151.76 128.37,150.96 130,150.2 131.65,149.45 133.34,148.71 135.07,147.96 136.83,147.22 138.59,146.49 140.37,145.77 142.14,145.08 143.9,144.4 145.65,143.75 147.39,143.12 149.14,142.5 150.89,141.91 152.65,141.32 154.41,140.74 156.2,140.17 158,139.6 159.83,139.04 161.69,138.48 163.56,137.93 165.45,137.39 167.34,136.85 169.21,136.33 171.07,135.81 172.9,135.3 174.7,134.8 176.46,134.3 178.22,133.8 179.96,133.32 181.7,132.84 183.44,132.38 185.21,131.93 187,131.5 188.78,131.08 190.52,130.69 192.26,130.3 194.02,129.93 195.82,129.57 197.7,129.21 199.69,128.86 201.8,128.5 204.07,128.14 206.47,127.76 208.97,127.39 211.55,127.02 214.17,126.67 216.81,126.34 219.43,126.05 222,125.8 224.57,125.59 227.2,125.42 229.85,125.28 232.49,125.16 235.09,125.07 237.63,125 240.08,124.94 242.4,124.9 244.58,124.88 246.62,124.87 248.58,124.89 250.46,124.93 252.32,124.98 254.17,125.05 256.05,125.12 258,125.2 260.03,125.29 262.11,125.38 264.22,125.49 266.34,125.61 268.42,125.74 270.45,125.88 272.38,126.03 274.2,126.2 275.89,126.38 277.47,126.58 278.96,126.79 280.4,127.02 281.8,127.25 283.18,127.5 284.57,127.75 286,128 287.4,128.25 288.74,128.51 290.05,128.77 291.36,129.04 292.71,129.32 294.14,129.62 295.7,129.95 297.4,130.3 299.28,130.68 301.29,131.09 303.42,131.52 305.64,131.98 307.9,132.44 310.19,132.92 312.46,133.41 314.7,133.9 316.96,134.41 319.28,134.96 321.65,135.52 324.01,136.09 326.34,136.65 328.58,137.2 330.72,137.72 332.7,138.2 334.59,138.66 336.46,139.11 338.27,139.55 339.97,139.97 341.54,140.35 342.92,140.69 344.09,140.98 345,141.2" fill="none" stroke="#44ad62" stroke-width="1.05" stroke-linejoin="round"/>
<line x1="146.8" y1="137" x2="146.8" y2="149.6" stroke="#1c1c1c" stroke-width="1.15"/><line x1="143.2" y1="143.3" x2="150.4" y2="143.3" stroke="#1c1c1c" stroke-width="1.15"/><circle cx="146.8" cy="143.3" r="2.4" fill="#1c1c1c"/>
<line x1="155.5" y1="134.4" x2="155.5" y2="147" stroke="#1c1c1c" stroke-width="1.15"/><line x1="151.9" y1="140.7" x2="159.1" y2="140.7" stroke="#1c1c1c" stroke-width="1.15"/><circle cx="155.5" cy="140.7" r="2.4" fill="#1c1c1c"/>
<line x1="164.2" y1="132.4" x2="164.2" y2="145" stroke="#1c1c1c" stroke-width="1.15"/><line x1="160.6" y1="138.7" x2="167.8" y2="138.7" stroke="#1c1c1c" stroke-width="1.15"/><circle cx="164.2" cy="138.7" r="2.4" fill="#1c1c1c"/>
<line x1="172.5" y1="126.4" x2="172.5" y2="139" stroke="#1c1c1c" stroke-width="1.15"/><line x1="168.9" y1="132.7" x2="176.1" y2="132.7" stroke="#1c1c1c" stroke-width="1.15"/><circle cx="172.5" cy="132.7" r="2.4" fill="#1c1c1c"/>
<line x1="180.4" y1="129.8" x2="180.4" y2="142.4" stroke="#1c1c1c" stroke-width="1.15"/><line x1="176.8" y1="136.1" x2="184" y2="136.1" stroke="#1c1c1c" stroke-width="1.15"/><circle cx="180.4" cy="136.1" r="2.4" fill="#1c1c1c"/>
<line x1="188.4" y1="126.6" x2="188.4" y2="139.2" stroke="#1c1c1c" stroke-width="1.15"/><line x1="184.8" y1="132.9" x2="192" y2="132.9" stroke="#1c1c1c" stroke-width="1.15"/><circle cx="188.4" cy="132.9" r="2.4" fill="#1c1c1c"/>
<line x1="276.7" y1="119.6" x2="276.7" y2="132.2" stroke="#1c1c1c" stroke-width="1.15"/><line x1="273.1" y1="125.9" x2="280.3" y2="125.9" stroke="#1c1c1c" stroke-width="1.15"/><circle cx="276.7" cy="125.9" r="2.4" fill="#1c1c1c"/>
<line x1="282.5" y1="120.8" x2="282.5" y2="133.4" stroke="#1c1c1c" stroke-width="1.15"/><line x1="278.9" y1="127.1" x2="286.1" y2="127.1" stroke="#1c1c1c" stroke-width="1.15"/><circle cx="282.5" cy="127.1" r="2.4" fill="#1c1c1c"/>
<line x1="288.3" y1="121.5" x2="288.3" y2="134.1" stroke="#1c1c1c" stroke-width="1.15"/><line x1="284.7" y1="127.8" x2="291.9" y2="127.8" stroke="#1c1c1c" stroke-width="1.15"/><circle cx="288.3" cy="127.8" r="2.4" fill="#1c1c1c"/>
<line x1="294" y1="122.5" x2="294" y2="135.1" stroke="#1c1c1c" stroke-width="1.15"/><line x1="290.4" y1="128.8" x2="297.6" y2="128.8" stroke="#1c1c1c" stroke-width="1.15"/><circle cx="294" cy="128.8" r="2.4" fill="#1c1c1c"/>
<line x1="299.3" y1="125.8" x2="299.3" y2="138.4" stroke="#1c1c1c" stroke-width="1.15"/><line x1="295.7" y1="132.1" x2="302.9" y2="132.1" stroke="#1c1c1c" stroke-width="1.15"/><circle cx="299.3" cy="132.1" r="2.4" fill="#1c1c1c"/>
<line x1="304.6" y1="126.1" x2="304.6" y2="138.7" stroke="#1c1c1c" stroke-width="1.15"/><line x1="301" y1="132.4" x2="308.2" y2="132.4" stroke="#1c1c1c" stroke-width="1.15"/><circle cx="304.6" cy="132.4" r="2.4" fill="#1c1c1c"/>
<line x1="310" y1="126.9" x2="310" y2="139.5" stroke="#1c1c1c" stroke-width="1.15"/><line x1="306.4" y1="133.2" x2="313.6" y2="133.2" stroke="#1c1c1c" stroke-width="1.15"/><circle cx="310" cy="133.2" r="2.4" fill="#1c1c1c"/>
<line x1="315.2" y1="126.9" x2="315.2" y2="139.5" stroke="#1c1c1c" stroke-width="1.15"/><line x1="311.6" y1="133.2" x2="318.8" y2="133.2" stroke="#1c1c1c" stroke-width="1.15"/><circle cx="315.2" cy="133.2" r="2.4" fill="#1c1c1c"/>
</g>
<line x1="172.9" y1="159.3" x2="172.9" y2="161.5" stroke="#1c1c1c" stroke-width="1.0"/>
<text x="156.12" y="173.4" font-size="10.6">5</text><path d="M165.7,168.2L170.1,172.6M165.7,172.6L170.1,168.2" stroke="#262626" stroke-width="0.8" fill="none"/><text x="174.17" y="173.4" font-size="10.6">10</text><text x="185.3" y="169.5" font-size="8.2">9</text>
<line x1="230.8" y1="159.3" x2="230.8" y2="161.5" stroke="#1c1c1c" stroke-width="1.0"/>
<text x="214.05" y="173.4" font-size="10.6">6</text><path d="M223.73,168.2L228.13,172.6M223.73,172.6L228.13,168.2" stroke="#262626" stroke-width="0.8" fill="none"/><text x="232.2" y="173.4" font-size="10.6">10</text><text x="243.33" y="169.5" font-size="8.2">9</text>
<line x1="279.75" y1="159.3" x2="279.75" y2="161.5" stroke="#1c1c1c" stroke-width="1.0"/>
<text x="262.87" y="173.4" font-size="10.6">7</text><path d="M272.56,168.2L276.96,172.6M272.56,172.6L276.96,168.2" stroke="#262626" stroke-width="0.8" fill="none"/><text x="281.03" y="173.4" font-size="10.6">10</text><text x="292.17" y="169.5" font-size="8.2">9</text>
<line x1="322.15" y1="159.3" x2="322.15" y2="161.5" stroke="#1c1c1c" stroke-width="1.0"/>
<text x="305.47" y="173.4" font-size="10.6">8</text><path d="M315.07,168.2L319.47,172.6M315.07,172.6L319.47,168.2" stroke="#262626" stroke-width="0.8" fill="none"/><text x="323.53" y="173.4" font-size="10.6">10</text><text x="334.67" y="169.5" font-size="8.2">9</text>
<line x1="115.7" y1="120.3" x2="117.9" y2="120.3" stroke="#1c1c1c" stroke-width="1.0"/>
<text x="72.96" y="124.7" font-size="10.6">5</text><path d="M82.55,119.5L86.95,123.9M82.55,123.9L86.95,119.5" stroke="#262626" stroke-width="0.8" fill="none"/><text x="91.02" y="124.7" font-size="10.6">10</text><rect x="102.41" y="118.33" width="4.7" height="0.75"/><text x="107.22" y="120.8" font-size="8.2">3</text>
<line x1="115.7" y1="149.3" x2="117.9" y2="149.3" stroke="#1c1c1c" stroke-width="1.0"/>
<text x="72.71" y="153.7" font-size="10.6">4</text><path d="M82.55,148.5L86.95,152.9M82.55,152.9L86.95,148.5" stroke="#262626" stroke-width="0.8" fill="none"/><text x="91.02" y="153.7" font-size="10.6">10</text><rect x="102.41" y="147.32" width="4.7" height="0.75"/><text x="107.22" y="149.8" font-size="8.2">3</text>
<rect x="117.9" y="113.3" width="214.8" height="46" fill="none" stroke="#1c1c1c" stroke-width="1.35"/>
<rect x="482.3" y="92.4" width="205.9" height="67" fill="#fff"/>
<g clip-path="url(#iTR)">
<polyline points="478,165.5 478.57,165.01 479.3,164.38 480.16,163.64 481.14,162.8 482.21,161.88 483.36,160.92 484.56,159.91 485.8,158.9 487.11,157.84 488.54,156.71 490.05,155.52 491.63,154.29 493.23,153.03 494.85,151.77 496.44,150.52 498,149.3 499.52,148.11 501.02,146.92 502.52,145.74 504.02,144.56 505.54,143.37 507.07,142.16 508.62,140.94 510.2,139.7 511.82,138.43 513.47,137.13 515.14,135.82 516.83,134.49 518.52,133.16 520.22,131.83 521.92,130.51 523.6,129.2 525.29,127.89 527,126.55 528.71,125.21 530.43,123.88 532.12,122.57 533.79,121.29 535.42,120.07 537,118.9 538.51,117.81 539.94,116.79 541.33,115.81 542.7,114.88 544.07,113.95 545.46,113.03 546.89,112.08 548.4,111.1 550.01,110.05 551.73,108.94 553.51,107.8 555.3,106.66 557.07,105.56 558.77,104.53 560.36,103.6 561.8,102.8 563.08,102.15 564.22,101.62 565.26,101.18 566.24,100.81 567.17,100.5 568.09,100.2 569.02,99.91 570,99.6 571.03,99.27 572.07,98.96 573.12,98.67 574.17,98.39 575.19,98.13 576.18,97.89 577.12,97.68 578,97.5 578.8,97.35 579.53,97.22 580.2,97.12 580.84,97.04 581.47,96.99 582.11,96.94 582.78,96.92 583.5,96.9 584.26,96.89 585.04,96.9 585.84,96.93 586.66,96.97 587.48,97.03 588.32,97.1 589.16,97.19 590,97.3 590.85,97.43 591.71,97.57 592.59,97.74 593.47,97.92 594.35,98.12 595.24,98.33 596.12,98.56 597,98.8 597.81,99.03 598.54,99.25 599.23,99.47 599.94,99.71 600.72,100 601.62,100.34 602.69,100.77 604,101.3 605.58,101.95 607.39,102.72 609.38,103.58 611.49,104.49 613.67,105.44 615.85,106.39 617.98,107.32 620,108.2 621.85,109 623.57,109.73 625.22,110.42 626.89,111.13 628.63,111.88 630.54,112.72 632.67,113.68 635.1,114.8 637.88,116.1 640.94,117.56 644.24,119.15 647.69,120.81 651.23,122.53 654.79,124.25 658.3,125.96 661.7,127.6 665.12,129.25 668.68,130.97 672.29,132.72 675.88,134.45 679.34,136.13 682.61,137.71 685.59,139.14 688.2,140.4 690.46,141.48 692.46,142.44 694.22,143.27 695.76,144 697.09,144.63 698.22,145.16 699.19,145.62 700,146" fill="none" stroke="#44ad62" stroke-width="1.05" stroke-linejoin="round"/>
<line x1="498.2" y1="151" x2="498.2" y2="160" stroke="#1c1c1c" stroke-width="1.15"/><line x1="494.8" y1="156" x2="501.5" y2="156" stroke="#1c1c1c" stroke-width="1.15"/><circle cx="498.2" cy="156" r="2.4" fill="#1c1c1c"/>
<line x1="504.5" y1="138" x2="504.5" y2="147.6" stroke="#1c1c1c" stroke-width="1.15"/><line x1="501" y1="142.3" x2="508" y2="142.3" stroke="#1c1c1c" stroke-width="1.15"/><circle cx="504.5" cy="142.3" r="2.4" fill="#1c1c1c"/>
<circle cx="515.7" cy="133.1" r="2.4" fill="#1c1c1c"/>
<circle cx="524" cy="121.7" r="2.4" fill="#1c1c1c"/>
<circle cx="528" cy="128.3" r="2.4" fill="#1c1c1c"/>
<circle cx="531.8" cy="120.6" r="2.4" fill="#1c1c1c"/>
<line x1="536.7" y1="113.5" x2="548.9" y2="113.5" stroke="#1c1c1c" stroke-width="1.15"/><circle cx="543.1" cy="113.5" r="2.4" fill="#1c1c1c"/>
<line x1="551.3" y1="109.8" x2="558.7" y2="109.8" stroke="#1c1c1c" stroke-width="1.15"/><circle cx="554.1" cy="109.8" r="2.4" fill="#1c1c1c"/>
<line x1="555.6" y1="105.1" x2="563.9" y2="105.1" stroke="#1c1c1c" stroke-width="1.15"/><circle cx="559.8" cy="105.1" r="2.4" fill="#1c1c1c"/>
<line x1="564.6" y1="99.9" x2="571.6" y2="99.9" stroke="#1c1c1c" stroke-width="1.15"/><circle cx="568.2" cy="99.9" r="2.4" fill="#1c1c1c"/>
<circle cx="577.5" cy="96.3" r="2.4" fill="#1c1c1c"/>
<circle cx="580" cy="96" r="2.4" fill="#1c1c1c"/>
<circle cx="582.5" cy="96" r="2.4" fill="#1c1c1c"/>
<circle cx="585" cy="96.2" r="2.4" fill="#1c1c1c"/>
<circle cx="587.5" cy="96.8" r="2.4" fill="#1c1c1c"/>
<circle cx="589.5" cy="97.2" r="2.4" fill="#1c1c1c"/>
<circle cx="604.6" cy="101.8" r="2.4" fill="#1c1c1c"/>
<circle cx="607" cy="103" r="2.4" fill="#1c1c1c"/>
<circle cx="609.5" cy="104" r="2.4" fill="#1c1c1c"/>
<circle cx="612" cy="105.2" r="2.4" fill="#1c1c1c"/>
<circle cx="614.5" cy="106.2" r="2.4" fill="#1c1c1c"/>
<circle cx="617" cy="107.2" r="2.4" fill="#1c1c1c"/>
<circle cx="619.5" cy="107.8" r="2.4" fill="#1c1c1c"/>
<circle cx="622" cy="108" r="2.4" fill="#1c1c1c"/>
<circle cx="624.5" cy="108.3" r="2.4" fill="#1c1c1c"/>
<circle cx="627" cy="109.2" r="2.4" fill="#1c1c1c"/>
<circle cx="629.5" cy="110.3" r="2.4" fill="#1c1c1c"/>
<circle cx="631.5" cy="111.3" r="2.4" fill="#1c1c1c"/>
<circle cx="633.6" cy="112.3" r="2.4" fill="#1c1c1c"/>
<circle cx="661.7" cy="127.3" r="2.4" fill="#1c1c1c"/>
<circle cx="667.7" cy="129.3" r="2.4" fill="#1c1c1c"/>
<circle cx="672.8" cy="136.8" r="2.4" fill="#1c1c1c"/>
<circle cx="677.8" cy="136.8" r="2.4" fill="#1c1c1c"/>
</g>
<line x1="482.15" y1="159.4" x2="482.15" y2="161.6" stroke="#1c1c1c" stroke-width="0.9"/>
<line x1="488.83" y1="159.4" x2="488.83" y2="161.6" stroke="#1c1c1c" stroke-width="0.9"/>
<line x1="534.08" y1="159.4" x2="534.08" y2="161.6" stroke="#1c1c1c" stroke-width="0.9"/>
<line x1="557.06" y1="159.4" x2="557.06" y2="161.6" stroke="#1c1c1c" stroke-width="0.9"/>
<line x1="573.37" y1="159.4" x2="573.37" y2="161.6" stroke="#1c1c1c" stroke-width="0.9"/>
<line x1="586.02" y1="159.4" x2="586.02" y2="161.6" stroke="#1c1c1c" stroke-width="0.9"/>
<line x1="596.35" y1="159.4" x2="596.35" y2="161.6" stroke="#1c1c1c" stroke-width="0.9"/>
<line x1="605.09" y1="159.4" x2="605.09" y2="161.6" stroke="#1c1c1c" stroke-width="0.9"/>
<line x1="612.65" y1="159.4" x2="612.65" y2="161.6" stroke="#1c1c1c" stroke-width="0.9"/>
<line x1="619.33" y1="159.4" x2="619.33" y2="161.6" stroke="#1c1c1c" stroke-width="0.9"/>
<line x1="664.58" y1="159.4" x2="664.58" y2="161.6" stroke="#1c1c1c" stroke-width="0.9"/>
<line x1="687.56" y1="159.4" x2="687.56" y2="161.6" stroke="#1c1c1c" stroke-width="0.9"/>
<line x1="494.8" y1="159.4" x2="494.8" y2="162.4" stroke="#1c1c1c" stroke-width="1.0"/>
<text x="486.89" y="175.9" font-size="10.6">10</text><text x="498.02" y="172" font-size="8.2">9</text>
<line x1="625.3" y1="159.4" x2="625.3" y2="162.4" stroke="#1c1c1c" stroke-width="1.0"/>
<text x="615.55" y="175.9" font-size="10.6">10</text><text x="626.23" y="172" font-size="8.2">10</text>
<line x1="480.1" y1="156.59" x2="482.3" y2="156.59" stroke="#1c1c1c" stroke-width="0.9"/>
<line x1="480.1" y1="152.41" x2="482.3" y2="152.41" stroke="#1c1c1c" stroke-width="0.9"/>
<line x1="480.1" y1="148.88" x2="482.3" y2="148.88" stroke="#1c1c1c" stroke-width="0.9"/>
<line x1="480.1" y1="145.82" x2="482.3" y2="145.82" stroke="#1c1c1c" stroke-width="0.9"/>
<line x1="480.1" y1="143.12" x2="482.3" y2="143.12" stroke="#1c1c1c" stroke-width="0.9"/>
<line x1="480.1" y1="124.81" x2="482.3" y2="124.81" stroke="#1c1c1c" stroke-width="0.9"/>
<line x1="480.1" y1="115.51" x2="482.3" y2="115.51" stroke="#1c1c1c" stroke-width="0.9"/>
<line x1="480.1" y1="108.91" x2="482.3" y2="108.91" stroke="#1c1c1c" stroke-width="0.9"/>
<line x1="480.1" y1="103.79" x2="482.3" y2="103.79" stroke="#1c1c1c" stroke-width="0.9"/>
<line x1="480.1" y1="99.61" x2="482.3" y2="99.61" stroke="#1c1c1c" stroke-width="0.9"/>
<line x1="480.1" y1="96.08" x2="482.3" y2="96.08" stroke="#1c1c1c" stroke-width="0.9"/>
<line x1="480.1" y1="93.02" x2="482.3" y2="93.02" stroke="#1c1c1c" stroke-width="0.9"/>
<line x1="480.1" y1="103.79" x2="482.3" y2="103.79" stroke="#1c1c1c" stroke-width="1.0"/>
<text x="437.36" y="108.19" font-size="10.6">5</text><path d="M446.95,102.99L451.35,107.39M446.95,107.39L451.35,102.99" stroke="#262626" stroke-width="0.8" fill="none"/><text x="455.42" y="108.19" font-size="10.6">10</text><rect x="466.81" y="101.82" width="4.7" height="0.75"/><text x="471.62" y="104.29" font-size="8.2">3</text>
<line x1="479.3" y1="140.7" x2="482.3" y2="140.7" stroke="#1c1c1c" stroke-width="1.0"/>
<text x="437.59" y="145.1" font-size="10.6">1</text><path d="M446.95,139.9L451.35,144.3M446.95,144.3L451.35,139.9" stroke="#262626" stroke-width="0.8" fill="none"/><text x="455.42" y="145.1" font-size="10.6">10</text><rect x="466.81" y="138.72" width="4.7" height="0.75"/><text x="471.62" y="141.2" font-size="8.2">3</text>
<line x1="480.1" y1="156.59" x2="482.3" y2="156.59" stroke="#1c1c1c" stroke-width="1.0"/>
<text x="436.94" y="160.99" font-size="10.6">5</text><path d="M446.52,155.79L450.92,160.19M446.52,160.19L450.92,155.79" stroke="#262626" stroke-width="0.8" fill="none"/><text x="454.99" y="160.99" font-size="10.6">10</text><rect x="466.39" y="154.62" width="4.7" height="0.75"/><text x="471.43" y="157.09" font-size="8.2">4</text>
<rect x="482.3" y="92.4" width="205.9" height="67" fill="none" stroke="#1c1c1c" stroke-width="1.35"/>
<rect x="118.2" y="303.2" width="214.5" height="70.4" fill="#fff"/>
<g clip-path="url(#iBL)">
<polyline points="110,369.8 110.62,369.37 111.41,368.84 112.34,368.22 113.4,367.5 114.57,366.69 115.84,365.81 117.19,364.84 118.6,363.8 120.1,362.66 121.73,361.41 123.46,360.06 125.27,358.64 127.15,357.16 129.08,355.65 131.04,354.12 133,352.6 135,351.05 137.07,349.43 139.18,347.76 141.34,346.08 143.51,344.4 145.69,342.74 147.86,341.14 150,339.6 152.15,338.11 154.33,336.64 156.52,335.2 158.71,333.79 160.87,332.43 162.99,331.12 165.04,329.88 167,328.7 168.89,327.59 170.72,326.54 172.5,325.54 174.22,324.6 175.9,323.72 177.52,322.89 179.09,322.12 180.6,321.4 182.03,320.75 183.35,320.17 184.6,319.65 185.81,319.18 187,318.76 188.21,318.38 189.47,318.03 190.8,317.7 192.22,317.4 193.7,317.14 195.21,316.91 196.75,316.73 198.29,316.57 199.8,316.45 201.28,316.36 202.7,316.3 204.04,316.27 205.3,316.26 206.52,316.28 207.72,316.33 208.94,316.43 210.19,316.56 211.5,316.75 212.9,317 214.39,317.3 215.95,317.66 217.56,318.07 219.21,318.53 220.89,319.02 222.59,319.55 224.3,320.11 226,320.7 227.65,321.31 229.23,321.94 230.79,322.61 232.38,323.31 234.05,324.05 235.85,324.84 237.81,325.69 240,326.6 242.45,327.58 245.14,328.64 248.01,329.76 251,330.92 254.05,332.12 257.11,333.34 260.11,334.57 263,335.8 265.8,337.04 268.58,338.29 271.33,339.57 274.07,340.87 276.81,342.18 279.54,343.51 282.27,344.85 285,346.2 287.71,347.54 290.37,348.85 293.01,350.17 295.66,351.51 298.33,352.89 301.07,354.33 303.88,355.86 306.8,357.5 309.93,359.32 313.31,361.35 316.81,363.49 320.34,365.68 323.8,367.84 327.09,369.9 330.09,371.78 332.7,373.4 334.97,374.8 337.02,376.06 338.85,377.19 340.47,378.19 341.89,379.07 343.11,379.83 344.14,380.47 345,381" fill="none" stroke="#44ad62" stroke-width="1.05" stroke-linejoin="round"/>
<line x1="159.9" y1="307.7" x2="159.9" y2="318.4" stroke="#1c1c1c" stroke-width="1.15"/><circle cx="159.9" cy="312.8" r="2.4" fill="#c4c4c4"/>
<circle cx="176.4" cy="319.2" r="2.4" fill="#1c1c1c"/>
<circle cx="179.2" cy="319.2" r="2.4" fill="#1c1c1c"/>
<circle cx="182.3" cy="320.4" r="2.4" fill="#1c1c1c"/>
<circle cx="184.9" cy="317" r="2.4" fill="#1c1c1c"/>
<circle cx="187.4" cy="318.4" r="2.4" fill="#1c1c1c"/>
<circle cx="188.3" cy="316.3" r="2.4" fill="#1c1c1c"/>
<circle cx="190.8" cy="316.7" r="2.4" fill="#1c1c1c"/>
<circle cx="193.9" cy="317" r="2.4" fill="#1c1c1c"/>
<circle cx="210.4" cy="318.4" r="2.4" fill="#1c1c1c"/>
<circle cx="212.9" cy="319.2" r="2.4" fill="#1c1c1c"/>
<circle cx="215.5" cy="320.4" r="2.4" fill="#1c1c1c"/>
<circle cx="218" cy="320.7" r="2.4" fill="#1c1c1c"/>
<circle cx="220.6" cy="322.4" r="2.4" fill="#1c1c1c"/>
<circle cx="222.8" cy="322.8" r="2.4" fill="#1c1c1c"/>
<circle cx="239.8" cy="326.6" r="2.4" fill="#1c1c1c"/>
<circle cx="242" cy="328" r="2.4" fill="#1c1c1c"/>
<circle cx="244" cy="329" r="2.4" fill="#1c1c1c"/>
<circle cx="246" cy="330" r="2.4" fill="#1c1c1c"/>
<circle cx="247.5" cy="329.5" r="2.4" fill="#1c1c1c"/>
<circle cx="250" cy="330.5" r="2.4" fill="#1c1c1c"/>
<circle cx="254" cy="331" r="2.4" fill="#1c1c1c"/>
<circle cx="258" cy="332.5" r="2.4" fill="#1c1c1c"/>
<circle cx="262" cy="333" r="2.4" fill="#1c1c1c"/>
<circle cx="265" cy="334.5" r="2.4" fill="#1c1c1c"/>
<circle cx="268" cy="335.5" r="2.4" fill="#1c1c1c"/>
<circle cx="271" cy="337" r="2.4" fill="#1c1c1c"/>
<circle cx="303.5" cy="353.8" r="2.4" fill="#1c1c1c"/>
<circle cx="310" cy="359.5" r="2.4" fill="#1c1c1c"/>
<circle cx="315.9" cy="362.8" r="2.4" fill="#1c1c1c"/>
<circle cx="321" cy="368.1" r="2.4" fill="#1c1c1c"/>
</g>
<line x1="161.91" y1="373.6" x2="161.91" y2="375.8" stroke="#1c1c1c" stroke-width="0.9"/>
<line x1="187.48" y1="373.6" x2="187.48" y2="375.8" stroke="#1c1c1c" stroke-width="0.9"/>
<line x1="205.62" y1="373.6" x2="205.62" y2="375.8" stroke="#1c1c1c" stroke-width="0.9"/>
<line x1="219.69" y1="373.6" x2="219.69" y2="375.8" stroke="#1c1c1c" stroke-width="0.9"/>
<line x1="231.19" y1="373.6" x2="231.19" y2="375.8" stroke="#1c1c1c" stroke-width="0.9"/>
<line x1="240.91" y1="373.6" x2="240.91" y2="375.8" stroke="#1c1c1c" stroke-width="0.9"/>
<line x1="249.33" y1="373.6" x2="249.33" y2="375.8" stroke="#1c1c1c" stroke-width="0.9"/>
<line x1="256.76" y1="373.6" x2="256.76" y2="375.8" stroke="#1c1c1c" stroke-width="0.9"/>
<line x1="307.11" y1="373.6" x2="307.11" y2="375.8" stroke="#1c1c1c" stroke-width="0.9"/>
<line x1="332.68" y1="373.6" x2="332.68" y2="375.8" stroke="#1c1c1c" stroke-width="0.9"/>
<line x1="118.2" y1="373.6" x2="118.2" y2="376.6" stroke="#1c1c1c" stroke-width="1.0"/>
<text x="110.29" y="390.1" font-size="10.6">10</text><text x="121.42" y="386.2" font-size="8.2">9</text>
<line x1="263.4" y1="373.6" x2="263.4" y2="376.6" stroke="#1c1c1c" stroke-width="1.0"/>
<text x="253.65" y="390.1" font-size="10.6">10</text><text x="264.33" y="386.2" font-size="8.2">10</text>
<line x1="116" y1="368.7" x2="118.2" y2="368.7" stroke="#1c1c1c" stroke-width="0.9"/>
<line x1="116" y1="363.1" x2="118.2" y2="363.1" stroke="#1c1c1c" stroke-width="0.9"/>
<line x1="116" y1="358.52" x2="118.2" y2="358.52" stroke="#1c1c1c" stroke-width="0.9"/>
<line x1="116" y1="354.65" x2="118.2" y2="354.65" stroke="#1c1c1c" stroke-width="0.9"/>
<line x1="116" y1="351.3" x2="118.2" y2="351.3" stroke="#1c1c1c" stroke-width="0.9"/>
<line x1="116" y1="348.34" x2="118.2" y2="348.34" stroke="#1c1c1c" stroke-width="0.9"/>
<line x1="116" y1="328.3" x2="118.2" y2="328.3" stroke="#1c1c1c" stroke-width="0.9"/>
<line x1="116" y1="318.12" x2="118.2" y2="318.12" stroke="#1c1c1c" stroke-width="0.9"/>
<line x1="116" y1="310.9" x2="118.2" y2="310.9" stroke="#1c1c1c" stroke-width="0.9"/>
<line x1="116" y1="305.3" x2="118.2" y2="305.3" stroke="#1c1c1c" stroke-width="0.9"/>
<line x1="116" y1="305.3" x2="118.2" y2="305.3" stroke="#1c1c1c" stroke-width="1.0"/>
<text x="73.26" y="309.7" font-size="10.6">5</text><path d="M82.85,304.5L87.25,308.9M82.85,308.9L87.25,304.5" stroke="#262626" stroke-width="0.8" fill="none"/><text x="91.32" y="309.7" font-size="10.6">10</text><rect x="102.71" y="303.32" width="4.7" height="0.75"/><text x="107.52" y="305.8" font-size="8.2">3</text>
<line x1="115.2" y1="345.7" x2="118.2" y2="345.7" stroke="#1c1c1c" stroke-width="1.0"/>
<text x="73.49" y="350.1" font-size="10.6">1</text><path d="M82.85,344.9L87.25,349.3M82.85,349.3L87.25,344.9" stroke="#262626" stroke-width="0.8" fill="none"/><text x="91.32" y="350.1" font-size="10.6">10</text><rect x="102.71" y="343.72" width="4.7" height="0.75"/><text x="107.52" y="346.2" font-size="8.2">3</text>
<line x1="116" y1="363.1" x2="118.2" y2="363.1" stroke="#1c1c1c" stroke-width="1.0"/>
<text x="72.84" y="367.5" font-size="10.6">5</text><path d="M82.42,362.3L86.82,366.7M82.42,366.7L86.82,362.3" stroke="#262626" stroke-width="0.8" fill="none"/><text x="90.89" y="367.5" font-size="10.6">10</text><rect x="102.29" y="361.12" width="4.7" height="0.75"/><text x="107.33" y="363.6" font-size="8.2">4</text>
<rect x="118.2" y="303.2" width="214.5" height="70.4" fill="none" stroke="#1c1c1c" stroke-width="1.35"/>
<rect x="489.9" y="311.2" width="190.4" height="62.4" fill="#fff"/>
<g clip-path="url(#iBR)">
<polyline points="480,353.5 480.79,352.97 481.85,352.26 483.11,351.42 484.51,350.48 485.97,349.5 487.42,348.51 488.79,347.56 490,346.7 491.07,345.91 492.06,345.16 493,344.42 493.91,343.69 494.83,342.96 495.76,342.21 496.74,341.42 497.8,340.6 498.93,339.73 500.11,338.82 501.33,337.88 502.58,336.92 503.84,335.95 505.1,334.99 506.36,334.03 507.6,333.1 508.83,332.17 510.05,331.24 511.28,330.3 512.5,329.37 513.73,328.45 514.95,327.57 516.17,326.71 517.4,325.9 518.62,325.12 519.85,324.36 521.07,323.63 522.3,322.93 523.52,322.26 524.75,321.63 525.98,321.04 527.2,320.5 528.44,320 529.69,319.55 530.95,319.13 532.2,318.76 533.44,318.42 534.66,318.11 535.85,317.84 537,317.6 538.1,317.4 539.16,317.24 540.19,317.11 541.2,317.02 542.2,316.96 543.19,316.92 544.19,316.9 545.2,316.9 546.21,316.91 547.21,316.95 548.2,317 549.2,317.08 550.21,317.19 551.24,317.32 552.3,317.49 553.4,317.7 554.55,317.94 555.74,318.22 556.96,318.53 558.2,318.88 559.45,319.24 560.71,319.64 561.96,320.06 563.2,320.5 564.42,320.97 565.65,321.48 566.87,322.02 568.09,322.59 569.31,323.17 570.54,323.75 571.77,324.33 573,324.9 574.22,325.46 575.42,326.01 576.6,326.56 577.8,327.12 579.02,327.69 580.28,328.27 581.61,328.87 583,329.5 584.48,330.16 586.04,330.85 587.65,331.55 589.31,332.27 590.99,333.01 592.67,333.74 594.35,334.48 596,335.2 597.61,335.91 599.2,336.59 600.78,337.27 602.37,337.96 603.98,338.66 605.63,339.39 607.33,340.17 609.1,341 610.96,341.89 612.89,342.84 614.89,343.83 616.92,344.84 618.97,345.88 621.01,346.93 623.03,347.97 625,349 626.96,350.03 628.93,351.08 630.9,352.15 632.86,353.21 634.78,354.27 636.66,355.31 638.47,356.32 640.2,357.3 641.84,358.24 643.41,359.14 644.9,360.01 646.36,360.87 647.78,361.72 649.18,362.57 650.58,363.42 652,364.3 653.38,365.16 654.68,366 655.95,366.82 657.21,367.65 658.52,368.51 659.91,369.43 661.43,370.42 663.1,371.5 665.01,372.72 667.15,374.09 669.43,375.54 671.79,377.04 674.13,378.54 676.38,379.98 678.47,381.31 680.3,382.5 681.94,383.57 683.48,384.59 684.91,385.55 686.22,386.44 687.4,387.24 688.43,387.94 689.3,388.53 690,389" fill="none" stroke="#44ad62" stroke-width="1.05" stroke-linejoin="round"/>
<line x1="510.9" y1="327.1" x2="510.9" y2="334.6" stroke="#1c1c1c" stroke-width="1.15"/><path d="M507.9,334.6L513.9,334.6L510.9,339.2Z" fill="#1c1c1c"/><circle cx="510.9" cy="327.1" r="2.4" fill="#1c1c1c"/>
<circle cx="539" cy="314" r="2.4" fill="#1c1c1c"/>
<circle cx="575.1" cy="327.1" r="2.4" fill="#1c1c1c"/>
<line x1="578.7" y1="329.2" x2="578.7" y2="339.3" stroke="#1c1c1c" stroke-width="1.15"/><line x1="560.4" y1="333.6" x2="590.7" y2="333.6" stroke="#1c1c1c" stroke-width="1.15"/><circle cx="578.7" cy="333.6" r="2.4" fill="#1c1c1c"/>
<line x1="591.2" y1="341" x2="622.2" y2="341" stroke="#1c1c1c" stroke-width="1.15"/><circle cx="609.1" cy="341" r="2.4" fill="#1c1c1c"/>
<line x1="640.2" y1="353.7" x2="640.2" y2="360.6" stroke="#1c1c1c" stroke-width="1.15"/><line x1="632" y1="357.2" x2="647" y2="357.2" stroke="#1c1c1c" stroke-width="1.15"/><circle cx="640.2" cy="357.2" r="2.4" fill="#1c1c1c"/>
<line x1="662.6" y1="367.9" x2="662.6" y2="375.1" stroke="#1c1c1c" stroke-width="1.15"/><line x1="652.4" y1="371.5" x2="670.7" y2="371.5" stroke="#1c1c1c" stroke-width="1.15"/><circle cx="662.6" cy="371.5" r="2.4" fill="#1c1c1c"/>
</g>
<line x1="489.85" y1="373.6" x2="489.85" y2="375.8" stroke="#1c1c1c" stroke-width="0.9"/>
<line x1="507.73" y1="373.6" x2="507.73" y2="375.8" stroke="#1c1c1c" stroke-width="0.9"/>
<line x1="520.41" y1="373.6" x2="520.41" y2="375.8" stroke="#1c1c1c" stroke-width="0.9"/>
<line x1="530.25" y1="373.6" x2="530.25" y2="375.8" stroke="#1c1c1c" stroke-width="0.9"/>
<line x1="538.28" y1="373.6" x2="538.28" y2="375.8" stroke="#1c1c1c" stroke-width="0.9"/>
<line x1="545.08" y1="373.6" x2="545.08" y2="375.8" stroke="#1c1c1c" stroke-width="0.9"/>
<line x1="550.96" y1="373.6" x2="550.96" y2="375.8" stroke="#1c1c1c" stroke-width="0.9"/>
<line x1="556.16" y1="373.6" x2="556.16" y2="375.8" stroke="#1c1c1c" stroke-width="0.9"/>
<line x1="591.35" y1="373.6" x2="591.35" y2="375.8" stroke="#1c1c1c" stroke-width="0.9"/>
<line x1="609.23" y1="373.6" x2="609.23" y2="375.8" stroke="#1c1c1c" stroke-width="0.9"/>
<line x1="621.91" y1="373.6" x2="621.91" y2="375.8" stroke="#1c1c1c" stroke-width="0.9"/>
<line x1="631.75" y1="373.6" x2="631.75" y2="375.8" stroke="#1c1c1c" stroke-width="0.9"/>
<line x1="639.78" y1="373.6" x2="639.78" y2="375.8" stroke="#1c1c1c" stroke-width="0.9"/>
<line x1="646.58" y1="373.6" x2="646.58" y2="375.8" stroke="#1c1c1c" stroke-width="0.9"/>
<line x1="652.46" y1="373.6" x2="652.46" y2="375.8" stroke="#1c1c1c" stroke-width="0.9"/>
<line x1="657.66" y1="373.6" x2="657.66" y2="375.8" stroke="#1c1c1c" stroke-width="0.9"/>
<line x1="560.8" y1="373.6" x2="560.8" y2="376.6" stroke="#1c1c1c" stroke-width="1.0"/>
<text x="552.89" y="390.1" font-size="10.6">10</text><text x="564.02" y="386.2" font-size="8.2">9</text>
<line x1="662.3" y1="373.6" x2="662.3" y2="376.6" stroke="#1c1c1c" stroke-width="1.0"/>
<text x="652.55" y="390.1" font-size="10.6">10</text><text x="663.23" y="386.2" font-size="8.2">10</text>
<line x1="487.7" y1="372.43" x2="489.9" y2="372.43" stroke="#1c1c1c" stroke-width="0.9"/>
<line x1="487.7" y1="367.36" x2="489.9" y2="367.36" stroke="#1c1c1c" stroke-width="0.9"/>
<line x1="487.7" y1="363.42" x2="489.9" y2="363.42" stroke="#1c1c1c" stroke-width="0.9"/>
<line x1="487.7" y1="360.21" x2="489.9" y2="360.21" stroke="#1c1c1c" stroke-width="0.9"/>
<line x1="487.7" y1="357.49" x2="489.9" y2="357.49" stroke="#1c1c1c" stroke-width="0.9"/>
<line x1="487.7" y1="355.13" x2="489.9" y2="355.13" stroke="#1c1c1c" stroke-width="0.9"/>
<line x1="487.7" y1="353.06" x2="489.9" y2="353.06" stroke="#1c1c1c" stroke-width="0.9"/>
<line x1="487.7" y1="338.98" x2="489.9" y2="338.98" stroke="#1c1c1c" stroke-width="0.9"/>
<line x1="487.7" y1="331.83" x2="489.9" y2="331.83" stroke="#1c1c1c" stroke-width="0.9"/>
<line x1="487.7" y1="326.76" x2="489.9" y2="326.76" stroke="#1c1c1c" stroke-width="0.9"/>
<line x1="487.7" y1="322.82" x2="489.9" y2="322.82" stroke="#1c1c1c" stroke-width="0.9"/>
<line x1="487.7" y1="319.61" x2="489.9" y2="319.61" stroke="#1c1c1c" stroke-width="0.9"/>
<line x1="487.7" y1="316.89" x2="489.9" y2="316.89" stroke="#1c1c1c" stroke-width="0.9"/>
<line x1="487.7" y1="314.53" x2="489.9" y2="314.53" stroke="#1c1c1c" stroke-width="0.9"/>
<line x1="487.7" y1="312.46" x2="489.9" y2="312.46" stroke="#1c1c1c" stroke-width="0.9"/>
<line x1="487.7" y1="322.82" x2="489.9" y2="322.82" stroke="#1c1c1c" stroke-width="1.0"/>
<text x="444.54" y="327.22" font-size="10.6">5</text><path d="M454.12,322.02L458.52,326.42M454.12,326.42L458.52,322.02" stroke="#262626" stroke-width="0.8" fill="none"/><text x="462.59" y="327.22" font-size="10.6">10</text><rect x="473.99" y="320.85" width="4.7" height="0.75"/><text x="479.03" y="323.32" font-size="8.2">4</text>
<line x1="486.9" y1="351.2" x2="489.9" y2="351.2" stroke="#1c1c1c" stroke-width="1.0"/>
<text x="444.76" y="355.6" font-size="10.6">1</text><path d="M454.12,350.4L458.52,354.8M454.12,354.8L458.52,350.4" stroke="#262626" stroke-width="0.8" fill="none"/><text x="462.59" y="355.6" font-size="10.6">10</text><rect x="473.99" y="349.22" width="4.7" height="0.75"/><text x="479.03" y="351.7" font-size="8.2">4</text>
<line x1="487.7" y1="363.42" x2="489.9" y2="363.42" stroke="#1c1c1c" stroke-width="1.0"/>
<text x="445.05" y="367.82" font-size="10.6">5</text><path d="M454.63,362.62L459.03,367.02M454.63,367.02L459.03,362.62" stroke="#262626" stroke-width="0.8" fill="none"/><text x="463.1" y="367.82" font-size="10.6">10</text><rect x="474.5" y="361.45" width="4.7" height="0.75"/><text x="479.22" y="363.92" font-size="8.2">5</text>
<rect x="489.9" y="311.2" width="190.4" height="62.4" fill="none" stroke="#1c1c1c" stroke-width="1.35"/>
<text x="340.9" y="442.7" font-family="'Liberation Sans', sans-serif" font-size="14.0" textLength="95.7" lengthAdjust="spacingAndGlyphs" letter-spacing="0.55" fill="#262626">Frequency (Hz)</text>
<text x="11.15" y="265.2" font-family="'Liberation Sans', sans-serif" font-size="14.0" textLength="107.5" lengthAdjust="spacingAndGlyphs" letter-spacing="0.55" fill="#262626" transform="rotate(-90 11.75 265.2)">Flux Density (Jy)</text>
</svg>
</body></html>
